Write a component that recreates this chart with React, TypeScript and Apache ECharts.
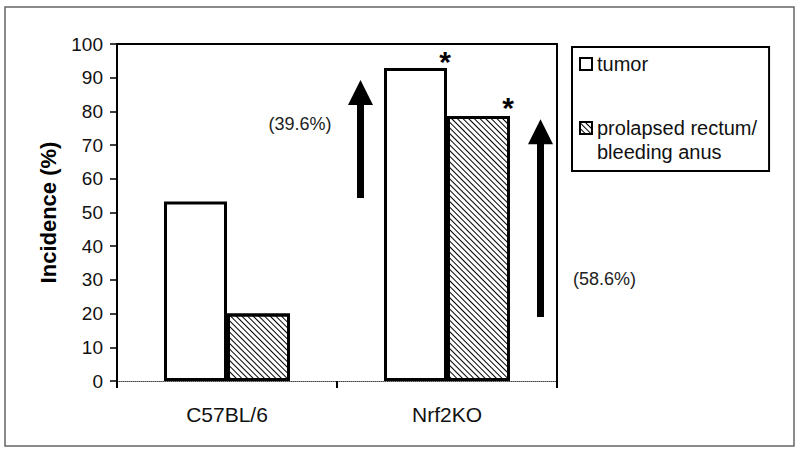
import React, { useEffect, useRef } from 'react';
import * as echarts from 'echarts';

const categories = ['C57BL/6', 'Nrf2KO'];
const seriesNames = ['tumor', 'prolapsed rectum/bleeding anus'];
const tumorValues = [53.3, 92.9];
const prolapsedValues = [20, 78.6];
const yTicks = { min: 0, max: 100, interval: 10 };
const increaseLabels = ['(39.6%)', '(58.6%)'];
const arrowRanges = [
  [54.3, 89.3],
  [19.0, 77.7],
];
const increaseLabelValues = [76.3, 30.3];
const significant = [false, true];

const FONT = 'Liberation Sans';

export default function App() {
  const ref = useRef<HTMLDivElement>(null);

  useEffect(() => {
    document.body.style.margin = '0';
    if (!ref.current) return;
    const chart = echarts.init(ref.current, undefined, { renderer: 'svg' });

    const hatch = {
      symbol: 'rect',
      symbolSize: 1,
      color: '#000',
      backgroundColor: '#fff',
      dashArrayX: [1, 0],
      dashArrayY: [1, 2.6],
      rotation: Math.PI / 4,
    };

    const starLabel = (position: any) => ({
      show: true,
      formatter: '*',
      position,
      align: 'center',
      verticalAlign: 'middle',
      fontFamily: FONT,
      fontWeight: 'bold',
      fontSize: 30,
      color: '#000',
    });

    const option: any = {
      animation: false,
      backgroundColor: '#fff',
      textStyle: { fontFamily: FONT },
      grid: { left: 117, right: 243, top: 44, bottom: 71 },
      legend: {
        orient: 'vertical',
        left: 572,
        top: 47,
        padding: [5, 12, 7, 7],
        itemGap: 16,
        itemWidth: 12,
        itemHeight: 12,
        borderColor: '#000',
        borderWidth: 2,
        selectedMode: false,
        icon: 'rect',
        data: seriesNames,
        formatter: (name: string) =>
          name === seriesNames[0] ? 'tumor' : '\nprolapsed rectum/\nbleeding anus',
        textStyle: {
          fontFamily: FONT,
          fontSize: 20,
          lineHeight: 24,
          color: '#111',
        },
      },
      xAxis: [
        {
          type: 'category',
          data: categories,
          axisLine: { show: true, onZero: false, lineStyle: { color: '#444', width: 1, type: 'dotted' } },
          axisTick: { show: true, length: 7, lineStyle: { color: '#000', width: 2 } },
          axisLabel: { color: '#111', fontSize: 21, margin: 23, fontFamily: FONT },
        },
        {
          type: 'category',
          data: categories,
          position: 'top',
          axisLine: { show: true, onZero: false, lineStyle: { color: '#000', width: 2 } },
          axisTick: { show: false },
          axisLabel: { show: false },
        },
      ],
      yAxis: [
        {
          type: 'value',
          min: yTicks.min,
          max: yTicks.max,
          interval: yTicks.interval,
          name: 'Incidence (%)',
          nameLocation: 'middle',
          nameGap: 58,
          nameTextStyle: { fontFamily: FONT, fontWeight: 'bold', fontSize: 22, color: '#000' },
          axisLine: { show: true, onZero: false, lineStyle: { color: '#000', width: 2 } },
          axisTick: { show: true, length: 7, lineStyle: { color: '#000', width: 1.5 } },
          axisLabel: { color: '#111', fontSize: 19, margin: 14, fontFamily: FONT },
          splitLine: { show: false },
        },
        {
          type: 'value',
          min: yTicks.min,
          max: yTicks.max,
          interval: yTicks.interval,
          position: 'right',
          axisLine: { show: true, onZero: false, lineStyle: { color: '#000', width: 2 } },
          axisTick: { show: false },
          axisLabel: { show: false },
          splitLine: { show: false },
        },
      ],
      series: [
        {
          name: seriesNames[0],
          type: 'bar',
          barWidth: 63,
          barGap: '0%',
          itemStyle: { color: '#fff', borderColor: '#000', borderWidth: 3 },
          data: tumorValues.map((v, i) =>
            significant[i] ? { value: v, label: starLabel(['97%', -6.5]) } : v
          ),
        },
        {
          name: seriesNames[1],
          type: 'bar',
          barWidth: 63,
          barGap: '0%',
          itemStyle: { color: '#fff', borderColor: '#000', borderWidth: 3, decal: hatch },
          data: prolapsedValues.map((v, i) =>
            significant[i] ? { value: v, label: starLabel(['97%', -9]) } : v
          ),
        },
      ],
    };

    chart.setOption(option);

    // annotations placed relative to the Nrf2KO category
    const cx = chart.convertToPixel({ xAxisIndex: 0 }, categories[1]) as number;
    const py = (v: number) => chart.convertToPixel({ yAxisIndex: 0 }, v) as number;
    const arrowX = [cx - 86.5, cx + 93.5];
    const graphics: any[] = [
      {
        type: 'rect',
        shape: { x: 5, y: 7, width: 789, height: 439 },
        style: { fill: 'none', stroke: '#666', lineWidth: 1.5 },
        silent: true,
      },
    ];
    arrowRanges.forEach(([from, to], i) => {
      const x = arrowX[i];
      const yb = py(from);
      const yt = py(to);
      const headH = 25;
      const headW = 25;
      graphics.push({
        type: 'rect',
        shape: { x: x - 3.5, y: yt + headH - 1, width: 7, height: yb - yt - headH + 1 },
        style: { fill: '#000' },
        silent: true,
      });
      graphics.push({
        type: 'polygon',
        shape: {
          points: [
            [x, yt],
            [x - headW / 2, yt + headH],
            [x + headW / 2, yt + headH],
          ],
        },
        style: { fill: '#000' },
        silent: true,
      });
    });
    graphics.push({
      type: 'text',
      x: cx - 147,
      y: py(increaseLabelValues[0]),
      style: {
        text: increaseLabels[0],
        fontFamily: FONT,
        fontSize: 18,
        fill: '#222',
        align: 'center',
        verticalAlign: 'middle',
      },
      silent: true,
    });
    graphics.push({
      type: 'text',
      x: cx + 126,
      y: py(increaseLabelValues[1]),
      style: {
        text: increaseLabels[1],
        fontFamily: FONT,
        fontSize: 18,
        fill: '#222',
        align: 'left',
        verticalAlign: 'middle',
      },
      silent: true,
    });
    chart.setOption({ graphic: graphics });

    return () => chart.dispose();
  }, []);

  return (
    <div
      ref={ref}
      style={{ position: 'absolute', left: 0, top: 0, width: 800, height: 452 }}
    />
  );
}
